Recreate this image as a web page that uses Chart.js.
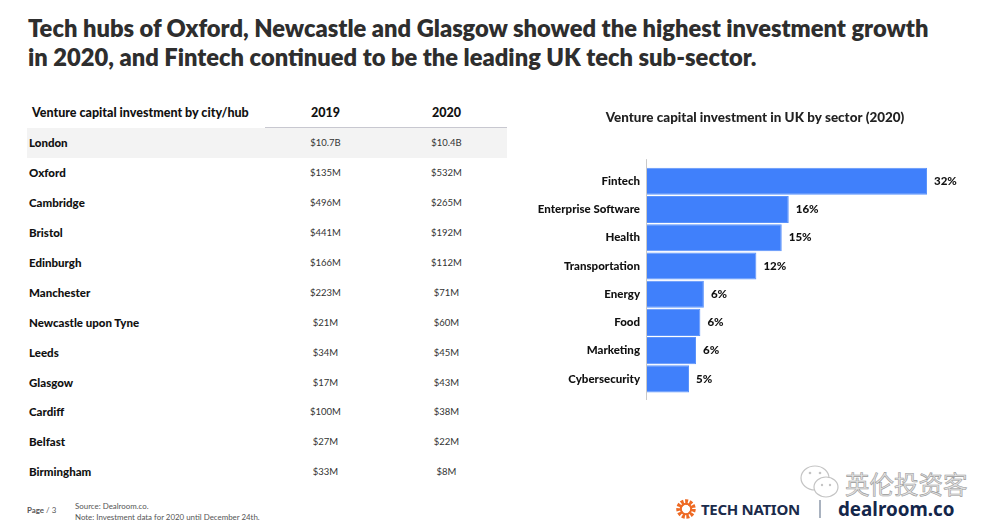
<!DOCTYPE html>
<html>
<head>
<meta charset="utf-8">
<script src="https://cdn.jsdelivr.net/npm/chart.js@4"></script>
<style>
  html, body { margin: 0; padding: 0; background: #fff; }
  body { width: 1000px; height: 527px; position: relative; overflow: hidden; font-family: Lato, sans-serif; }
  .abs { position: absolute; white-space: nowrap; }
  #headline { left: 28px; top: 13.5px; font-size: 23.7px; line-height: 29.5px; font-weight: 800; color: #2e2e2e; }
  #cityTable { position: absolute; left: 27px; top: 98px; width: 480px; }
  .row { display: flex; align-items: center; height: 29.9px; font-size: 9.5px; color: #333; text-align: center; }
  .row > div { width: 121px; }
  .row > div:first-child { width: 238px; text-align: left; padding-left: 2px; box-sizing: border-box; font-size: 11.5px; font-weight: 900; color: #111; }
  .row.head { height: 30px; font-size: 12.5px; font-weight: 900; color: #111; }
  .row.head > div { height: 30px; line-height: 30px; box-sizing: border-box; border-bottom: 1.5px solid #c8c8d0; }
  .row.head > div:first-child { font-size: 12.5px; padding-left: 5px; border-bottom: none; white-space: nowrap; }
  .row.first { background: #f3f3f3; }
  #sectorChart { position: absolute; left: 520px; top: 95px; }
  .foot { font-size: 7.9px; color: #555; }
</style>
</head>
<body>
<div class="abs" id="headline">Tech hubs of Oxford, Newcastle and Glasgow showed the highest investment growth<br>in 2020, and Fintech continued to be the leading UK tech sub-sector.</div>

<div id="cityTable"></div>

<canvas id="sectorChart" width="470" height="320"></canvas>

<div class="abs foot" style="left:27px;top:505px;"><b>Page</b> / 3</div>
<div class="abs foot" style="left:75px;top:501px;line-height:11px;">Source: Dealroom.co.<br>Note: Investment data for 2020 until December 24th.</div>

<svg class="abs" style="left:676px;top:499px;" width="20" height="20" viewBox="0 0 20 20">
  <circle cx="10" cy="10" r="7" fill="none" stroke="#ee6a24" stroke-width="5.5" stroke-dasharray="2.6 1.4"/>
  <circle cx="10" cy="10" r="5.2" fill="none" stroke="#ee6a24" stroke-width="2"/>
</svg>
<div class="abs" style="left:701px;top:499px;font-family:'Noto Sans';font-size:15px;line-height:20px;font-weight:700;color:#1b2b4b;letter-spacing:-0.3px;">TECH NATION</div>
<div class="abs" style="left:819px;top:500px;width:2px;height:18px;background:#a9b2bf;"></div>
<div class="abs" style="left:838px;top:494px;font-family:'Noto Sans';font-size:18.8px;line-height:30px;font-weight:700;color:#14264a;">dealroom.co</div>

<svg class="abs" style="left:798px;top:463px;" width="44" height="38" viewBox="0 0 44 38">
  <ellipse cx="17" cy="15" rx="14" ry="12" fill="#fff" stroke="#c4c4c4" stroke-width="1.2"/>
  <ellipse cx="28" cy="24" rx="12" ry="10" fill="#fff" stroke="#c4c4c4" stroke-width="1.2"/>
  <circle cx="12" cy="10" r="1.3" fill="#c4c4c4"/><circle cx="22" cy="10" r="1.3" fill="#c4c4c4"/>
  <circle cx="24" cy="22" r="1.2" fill="#c4c4c4"/><circle cx="32" cy="22" r="1.2" fill="#c4c4c4"/>
</svg>
<div class="abs" style="left:845px;top:468px;font-family:'Noto Sans CJK SC';font-size:24.5px;line-height:32px;color:#e4e4e4;-webkit-text-stroke:0.6px #9a9a9a;">英伦投资客</div>

<script>
// table
var tableHeaders = ['Venture capital investment by city/hub', '2019', '2020'];
var cities = ['London', 'Oxford', 'Cambridge', 'Bristol', 'Edinburgh', 'Manchester', 'Newcastle upon Tyne', 'Leeds', 'Glasgow', 'Cardiff', 'Belfast', 'Birmingham'];
var invest2019 = ['$10.7B', '$135M', '$496M', '$441M', '$166M', '$223M', '$21M', '$34M', '$17M', '$100M', '$27M', '$33M'];
var invest2020 = ['$10.4B', '$532M', '$265M', '$192M', '$112M', '$71M', '$60M', '$45M', '$43M', '$38M', '$22M', '$8M'];

// bars
var chartTitle = 'Venture capital investment in UK by sector (2020)';
var sectors = ['Fintech', 'Enterprise Software', 'Health', 'Transportation', 'Energy', 'Food', 'Marketing', 'Cybersecurity'];
var sectorValues = [32, 16.2, 15.4, 12.5, 6.5, 6.1, 5.6, 4.8];
var sectorLabels = ['32%', '16%', '15%', '12%', '6%', '6%', '6%', '5%'];

function tableRow(cells, cls) {
    return '<div class="row' + cls + '">' + cells.map(function (c) {
        return '<div>' + c + '</div>';
    }).join('') + '</div>';
}
document.getElementById('cityTable').innerHTML = tableRow(tableHeaders, ' head') + cities.map(function (c, i) {
    return tableRow([c, invest2019[i], invest2020[i]], i === 0 ? ' first' : '');
}).join('');

var labelFont = '900 11.5px Lato';

// value labels at the bar ends and the axis line that runs past the bars
var barExtras = {
    id: 'barExtras',
    afterDatasetsDraw: function (chart) {
        var ctx = chart.ctx;
        var area = chart.chartArea;
        ctx.save();
        ctx.strokeStyle = '#c9c9c9';
        ctx.lineWidth = 1;
        ctx.beginPath();
        ctx.moveTo(area.left - 0.5, area.top - 8);
        ctx.lineTo(area.left - 0.5, area.bottom + 7);
        ctx.stroke();
        ctx.font = labelFont;
        ctx.fillStyle = '#111';
        ctx.textBaseline = 'middle';
        chart.getDatasetMeta(0).data.forEach(function (bar, i) {
            ctx.fillText(sectorLabels[i], bar.x + 7, bar.y);
        });
        ctx.restore();
    }
};

new Chart(document.getElementById('sectorChart').getContext('2d'), {
    type: 'bar',
    data: {
        labels: sectors,
        datasets: [{
            data: sectorValues,
            backgroundColor: '#4080fb',
            borderColor: '#5b93fb',
            borderWidth: 1,
            categoryPercentage: 1,
            barPercentage: 0.96
        }]
    },
    options: {
        indexAxis: 'y',
        responsive: false,
        animation: false,
        layout: { padding: { top: 0, right: 0, bottom: 22, left: 0 } },
        plugins: {
            legend: { display: false },
            tooltip: { enabled: false },
            title: {
                display: true,
                text: chartTitle,
                color: '#222',
                font: { family: 'Lato', size: 13.45, weight: '900' },
                padding: { top: 15, bottom: 41 }
            }
        },
        scales: {
            x: { display: false, min: 0, max: 39.2 },
            y: {
                grid: { display: false, drawTicks: false },
                border: { display: false },
                afterFit: function (axis) { axis.width = 127; },
                ticks: {
                    color: '#111',
                    padding: 7,
                    font: { family: 'Lato', size: 11.5, weight: '900' }
                }
            }
        }
    },
    plugins: [barExtras]
});
</script>
</body>
</html>
